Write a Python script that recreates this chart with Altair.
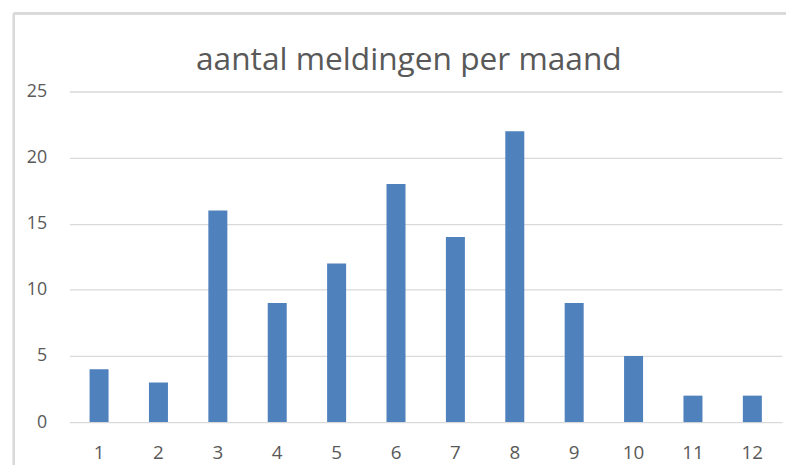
import altair as alt
import pandas as pd

months = [1, 2, 3, 4, 5, 6, 7, 8, 9, 10, 11, 12]
counts = [4, 3, 16, 9, 12, 18, 14, 22, 9, 5, 2, 2]
title_text = "aantal meldingen per maand"

df = pd.DataFrame({"maand": months, "aantal": counts})

FONT = "Open Sans"
GRAY = "#595959"

bars = alt.Chart(df).mark_bar(color="#4F81BD").encode(
    x=alt.X("maand:O", title=None,
            scale=alt.Scale(paddingInner=0.68, paddingOuter=0.34),
            axis=alt.Axis(labelAngle=0, labelFontSize=19, labelColor=GRAY,
                          labelFont=FONT, domain=False, ticks=False,
                          labelPadding=22)),
    y=alt.Y("aantal:Q", title=None,
            scale=alt.Scale(domain=[0, 25]),
            axis=alt.Axis(values=[0, 5, 10, 15, 20, 25], labelFontSize=18,
                          labelColor=GRAY, labelFont=FONT, domain=False,
                          ticks=False, labelPadding=23, gridColor="#D9D9D9",
                          gridWidth=1.3)),
)

border_left = alt.Chart(df).mark_rule(color="#D9D9D9", strokeWidth=2).encode(
    x=alt.value(-56), y=alt.value(-79), y2=alt.value(420)
)
border_top = alt.Chart(df).mark_rule(color="#D9D9D9", strokeWidth=2).encode(
    x=alt.value(-56), x2=alt.value(740), y=alt.value(-79)
)

title = alt.Chart(pd.DataFrame({"t": [title_text]})).mark_text(
    font=FONT, fontSize=32, color=GRAY, align="center", baseline="alphabetic"
).encode(x=alt.value(343), y=alt.value(-22), text="t:N")

chart = alt.layer(border_left, border_top, bars, title).properties(
    width=720,
    height=334,
    padding={"left": 62, "top": 82, "right": 4, "bottom": 41},
    autosize=alt.AutoSizeParams(type="none"),
).configure_view(stroke=None)

chart.save("out.html", embed_options={"renderer": "svg", "actions": False})
